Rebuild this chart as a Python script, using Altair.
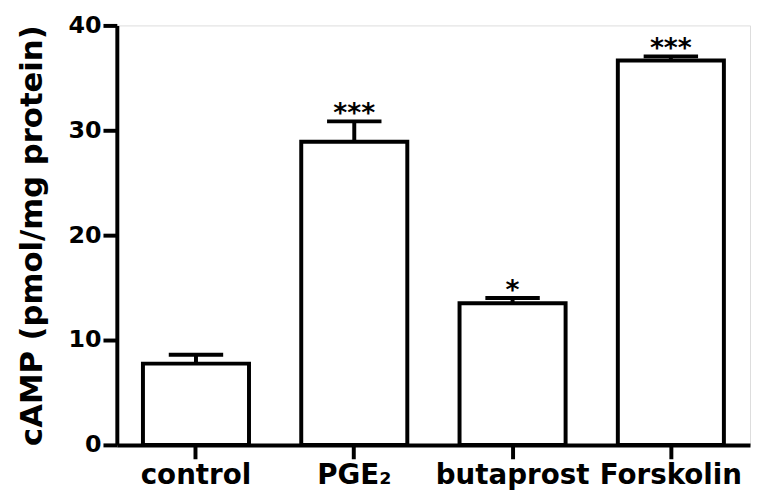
import altair as alt
import pandas as pd

categories = ["control", "PGE₂", "butaprost", "Forskolin"]
means = [7.75, 28.9, 13.5, 36.65]
upper = [8.6, 30.85, 14.0, 37.05]
stars = ["", "***", "*", "***"]

df = pd.DataFrame({"cat": categories, "mean": means, "upper": upper, "star": stars})

FONT = "DejaVu Sans"

x = alt.X("cat:N", sort=None, title=None,
          scale=alt.Scale(paddingInner=0.33, paddingOuter=0.165),
          axis=alt.Axis(labelAngle=0, labelFont=FONT, labelFontWeight="bold",
                        labelFontSize=28, labelColor="black", labelPadding=3,
                        tickSize=14, tickWidth=4, tickColor="black",
                        domainWidth=4, domainColor="black"))
y = alt.Y("mean:Q", title="cAMP (pmol/mg protein)",
          scale=alt.Scale(domain=[0, 40], nice=False),
          axis=alt.Axis(values=[0, 10, 20, 30, 40], grid=False,
                        labelFont=FONT, labelFontWeight="bold", labelFontSize=24,
                        labelColor="black", labelPadding=2,
                        tickSize=14, tickWidth=4, tickColor="black",
                        domainWidth=4, domainColor="black",
                        titleFont=FONT, titleFontWeight="bold", titleFontSize=31,
                        titleColor="black", titlePadding=20))

base = alt.Chart(df)
bars = base.mark_bar(fill="white", stroke="black", strokeWidth=4, opacity=1).encode(x=x, y=y)
err = base.mark_rule(color="black", strokeWidth=4, opacity=1).encode(x=x, y="mean:Q", y2="upper:Q")
cap = base.mark_tick(color="black", thickness=4, size=55, opacity=1).encode(x=x, y="upper:Q")
txt = base.mark_text(font=FONT, fontWeight="bold", fontSize=27, baseline="alphabetic",
                     dy=1, color="black").encode(x=x, y="upper:Q", text="star:N")

chart = alt.layer(bars, err, cap, txt).properties(
    width=640, height=424,
    autosize=alt.AutoSizeParams(type="none"),
    padding={"left": 110, "top": 15, "right": 1, "bottom": 46},
).configure_view(stroke=None).configure(background="white")

chart.save("out.html", embed_options={"renderer": "svg", "actions": False})
